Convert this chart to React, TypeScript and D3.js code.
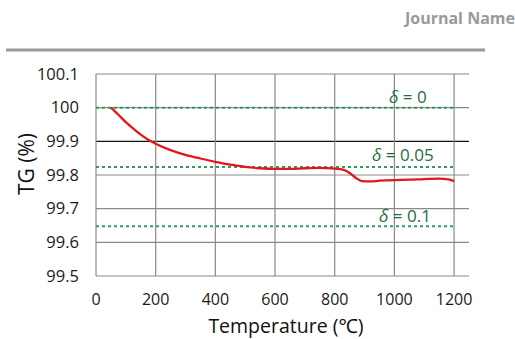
import React from "react";
import * as d3 from "d3";

const temps = [50, 75, 100, 125, 150, 175, 200, 250, 300, 350, 400, 450, 500, 550, 600, 650, 700, 750, 800, 830, 850, 870, 890, 920, 950, 1000, 1050, 1100, 1150, 1180, 1200];
const tg = [100, 99.979, 99.957, 99.938, 99.92, 99.905, 99.893, 99.874, 99.86, 99.849, 99.839, 99.831, 99.824, 99.82, 99.818, 99.818, 99.82, 99.821, 99.819, 99.815, 99.806, 99.792, 99.782, 99.781, 99.783, 99.785, 99.786, 99.788, 99.789, 99.787, 99.782];

const xTicks = [0, 200, 400, 600, 800, 1000, 1200];
const yTicks = [99.5, 99.6, 99.7, 99.8, 99.9, 100, 100.1];
const yTickLabels = ["99.5", "99.6", "99.7", "99.8", "99.9", "100", "100.1"];

const deltaLevels = [100, 99.824, 99.648];
const deltaLabels = ["0", "0.05", "0.1"];

export default function App() {
  const W = 515, H = 339;
  const x = d3.scaleLinear().domain([0, 1250]).range([96, 469]);
  const y = d3.scaleLinear().domain([99.5, 100.1]).range([276, 74]);
  const pts: [number, number][] = temps.map((t, i) => [t, tg[i]]);
  const line = d3.line<[number, number]>().x(d => x(d[0])).y(d => y(d[1])).curve(d3.curveMonotoneX);
  const font = "'Open Sans', 'Noto Sans', sans-serif";
  const labelOffsets = [
    { x: 389, dy: -5 },
    { x: 372, dy: -6 },
    { x: 379, dy: -4 },
  ];
  return (
    <svg width={W} height={H} style={{ position: "absolute", left: 0, top: 0 }}>
      <rect width={W} height={H} fill="#fff" />
      <text x={515} y={24} textAnchor="end" fontFamily={font} fontWeight="bold" fontSize={16} fill="#9a9a9a">Journal Name</text>
      <line x1={6} x2={485} y1={50} y2={50} stroke="#999" strokeWidth={3} />
      {yTicks.map(v => (
        <line key={"h" + v} x1={x(0)} x2={x(1250)} y1={y(v)} y2={y(v)} stroke={Math.abs(v - 99.9) < 1e-6 ? "#111" : "#8a8a8a"} strokeWidth={1.2} />
      ))}
      {xTicks.map(t => (
        <line key={"v" + t} x1={x(t)} x2={x(t)} y1={y(100.1)} y2={y(99.5)} stroke="#8a8a8a" strokeWidth={1.2} />
      ))}
      {deltaLevels.map((v, i) => (
        <g key={"d" + i}>
          <line x1={x(0)} x2={x(1200)} y1={y(v)} y2={y(v)} stroke="#2e9e5b" strokeWidth={2} strokeDasharray="3,3" />
          <text x={labelOffsets[i].x} y={y(v) + labelOffsets[i].dy} fontFamily={font} fontSize={17} fill="#1f6b40">
            <tspan fontStyle="italic">δ</tspan> = {deltaLabels[i]}
          </text>
        </g>
      ))}
      <path d={line(pts) || ""} fill="none" stroke="#e3161c" strokeWidth={2.3} />
      {yTicks.map((v, i) => (
        <text key={"yl" + v} x={79} y={y(v)} dy="0.35em" textAnchor="end" fontFamily={font} fontSize={16.5} fill="#1a1a1a">{yTickLabels[i]}</text>
      ))}
      {xTicks.map(t => (
        <text key={"xl" + t} x={x(t)} y={299} dy="0.35em" textAnchor="middle" fontFamily={font} fontSize={16} fill="#1a1a1a">{t}</text>
      ))}
      <text x={286} y={333} textAnchor="middle" fontFamily={font} fontSize={19.5} fill="#111">Temperature (℃)</text>
      <text transform={`translate(34,164) rotate(-90)`} textAnchor="middle" fontFamily={font} fontSize={21} fill="#111">TG (%)</text>
    </svg>
  );
}
